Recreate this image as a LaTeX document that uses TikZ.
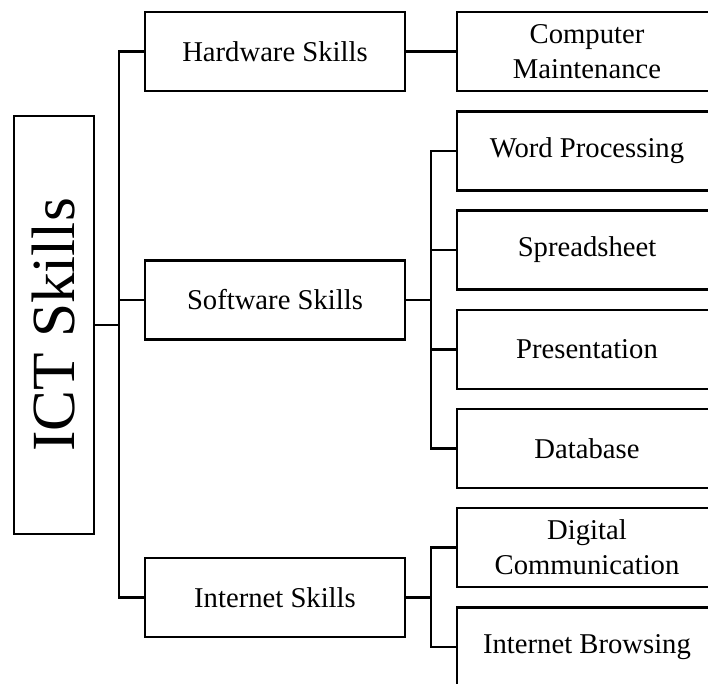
\documentclass[tikz,border=0pt]{standalone}
\usepackage{graphicx}
\usepackage{fontspec}
\setmainfont{Liberation Serif}
\usetikzlibrary{positioning}

\begin{document}
\begin{tikzpicture}[x=0.75pt, y=-0.75pt, line width=1.8pt,
  box/.style={draw, line width=1.8pt, minimum width=195pt, minimum height=59pt,
    inner sep=0pt, align=center, font=\fontsize{21.5}{26}\selectfont}]
  \useasboundingbox (0,0) rectangle (708,683);
  \clip (0,0) rectangle (708,683);
  % root
  \node[draw, line width=1.8pt, minimum width=60pt, minimum height=313.5pt, inner sep=0pt,
    font=\fontsize{46}{50}\selectfont] (ict) at (54,325) {\rotatebox{90}{ICT Skills}};
  % first level
  \node[box] (hw) at (275,51.5) {Hardware Skills};
  \node[box] (sw) at (275,300) {Software Skills};
  \node[box] (inet) at (275,597.5) {Internet Skills};
  % second level
  \node[box] (cm) at (587,51.5) {Computer\\Maintenance};
  \node[box] (wp) at (587,151) {Word Processing};
  \node[box] (ss) at (587,250) {Spreadsheet};
  \node[box] (pr) at (587,349.5) {Presentation};
  \node[box] (db) at (587,448.5) {Database};
  \node[box] (dc) at (587,547.5) {Digital\\Communication};
  \node[box] (ib) at (587,647) {Internet Browsing};
  % buses
  \coordinate (trunk) at (119,0);
  \coordinate (bus) at (431,0);
  % links
  \draw (ict.east) -- (ict.east -| trunk);
  \draw (hw.west) -- (hw.west -| trunk) |- (inet.west);
  \draw (sw.west) -- (sw.west -| trunk);
  \draw (hw) -- (cm);
  \draw (sw.east) -- (sw.east -| bus);
  \draw (wp.west) -- (wp.west -| bus) |- (db.west);
  \draw (ss.west) -- (ss.west -| bus);
  \draw (pr.west) -- (pr.west -| bus);
  \draw (inet.east) -- (inet.east -| bus);
  \draw (dc.west) -- (dc.west -| bus) |- (ib.west);
\end{tikzpicture}
\end{document}
